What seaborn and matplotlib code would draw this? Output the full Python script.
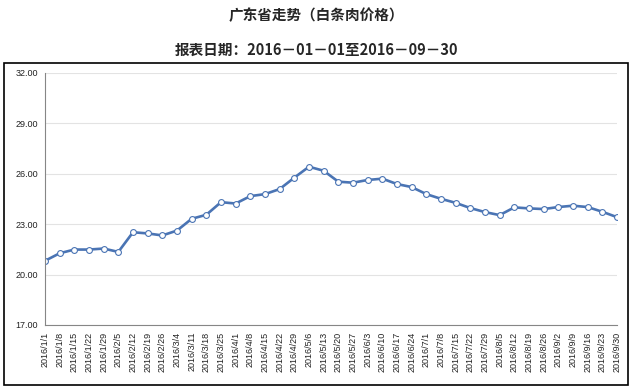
import matplotlib
matplotlib.use("Agg")
import matplotlib.pyplot as plt
import seaborn as sns
import pandas as pd
from matplotlib.patches import Rectangle

# 周度日期标签
dates = ["2016/1/1", "2016/1/8", "2016/1/15", "2016/1/22", "2016/1/29",
         "2016/2/5", "2016/2/12", "2016/2/19", "2016/2/26",
         "2016/3/4", "2016/3/11", "2016/3/18", "2016/3/25",
         "2016/4/1", "2016/4/8", "2016/4/15", "2016/4/22", "2016/4/29",
         "2016/5/6", "2016/5/13", "2016/5/20", "2016/5/27",
         "2016/6/3", "2016/6/10", "2016/6/17", "2016/6/24",
         "2016/7/1", "2016/7/8", "2016/7/15", "2016/7/22", "2016/7/29",
         "2016/8/5", "2016/8/12", "2016/8/19", "2016/8/26",
         "2016/9/2", "2016/9/9", "2016/9/16", "2016/9/23", "2016/9/30"]

# 白条肉价格
prices = [20.82, 21.27, 21.49, 21.49, 21.55, 21.35, 22.52, 22.45, 22.33, 22.62,
          23.32, 23.56, 24.31, 24.23, 24.67, 24.79, 25.09, 25.77, 26.42, 26.18,
          25.53, 25.47, 25.63, 25.71, 25.39, 25.21, 24.79, 24.51, 24.27, 23.96,
          23.72, 23.54, 24.00, 23.94, 23.90, 24.02, 24.10, 24.02, 23.74, 23.42]

y_ticks = [17, 20, 23, 26, 29, 32]

df = pd.DataFrame({"idx": range(len(dates)), "price": prices})

sns.set_style("white")
plt.rcParams["font.family"] = ["Noto Sans CJK SC", "DejaVu Sans"]

fig = plt.figure(figsize=(6.32, 3.88), dpi=100)
ax = fig.add_axes([0.0712, 0.1624, 0.905, 0.6495])

line_color = "#4A74B4"
sns.lineplot(data=df, x="idx", y="price", ax=ax, color=line_color, linewidth=1.9,
             marker="o", markersize=4.2, markerfacecolor="white",
             markeredgecolor=line_color, markeredgewidth=0.8)

ax.set_ylim(17, 32)
ax.set_xlim(0, len(dates) - 1)
ax.set_yticks(y_ticks)
ax.set_yticklabels([f"{v:.2f}" for v in y_ticks], fontsize=6.5,
                   family=["Liberation Sans", "DejaVu Sans"])
ax.set_xticks(range(len(dates)))
ax.set_xticklabels(dates, rotation=90, fontsize=6.5,
                   family=["Liberation Sans", "DejaVu Sans"])
ax.set_xlabel("")
ax.set_ylabel("")

ax.grid(axis="y", color="#E3E3E3", linewidth=0.8)
ax.set_axisbelow(True)
for side in ["top", "right"]:
    ax.spines[side].set_visible(False)
ax.spines["left"].set_color("#868686")
ax.spines["bottom"].set_color("#868686")
ax.spines["left"].set_linewidth(0.8)
ax.spines["bottom"].set_linewidth(0.8)
ax.tick_params(axis="both", direction="out", length=3, width=0.8, color="#868686",
               pad=2, labelcolor="#222222")

# 外框
fig.patches.append(Rectangle((0.0063, 0.0077), 0.9874, 0.83, transform=fig.transFigure,
                             fill=False, edgecolor="black", linewidth=1.2))

fig.text(0.5, 0.961, "广东省走势（白条肉价格）", ha="center", va="center",
         fontsize=10.5, fontweight="bold")
fig.text(0.5, 0.871, "报表日期：2016－01－01至2016－09－30", ha="center", va="center",
         fontsize=10.5, fontweight="bold")

fig.savefig("out.png", dpi=100)
